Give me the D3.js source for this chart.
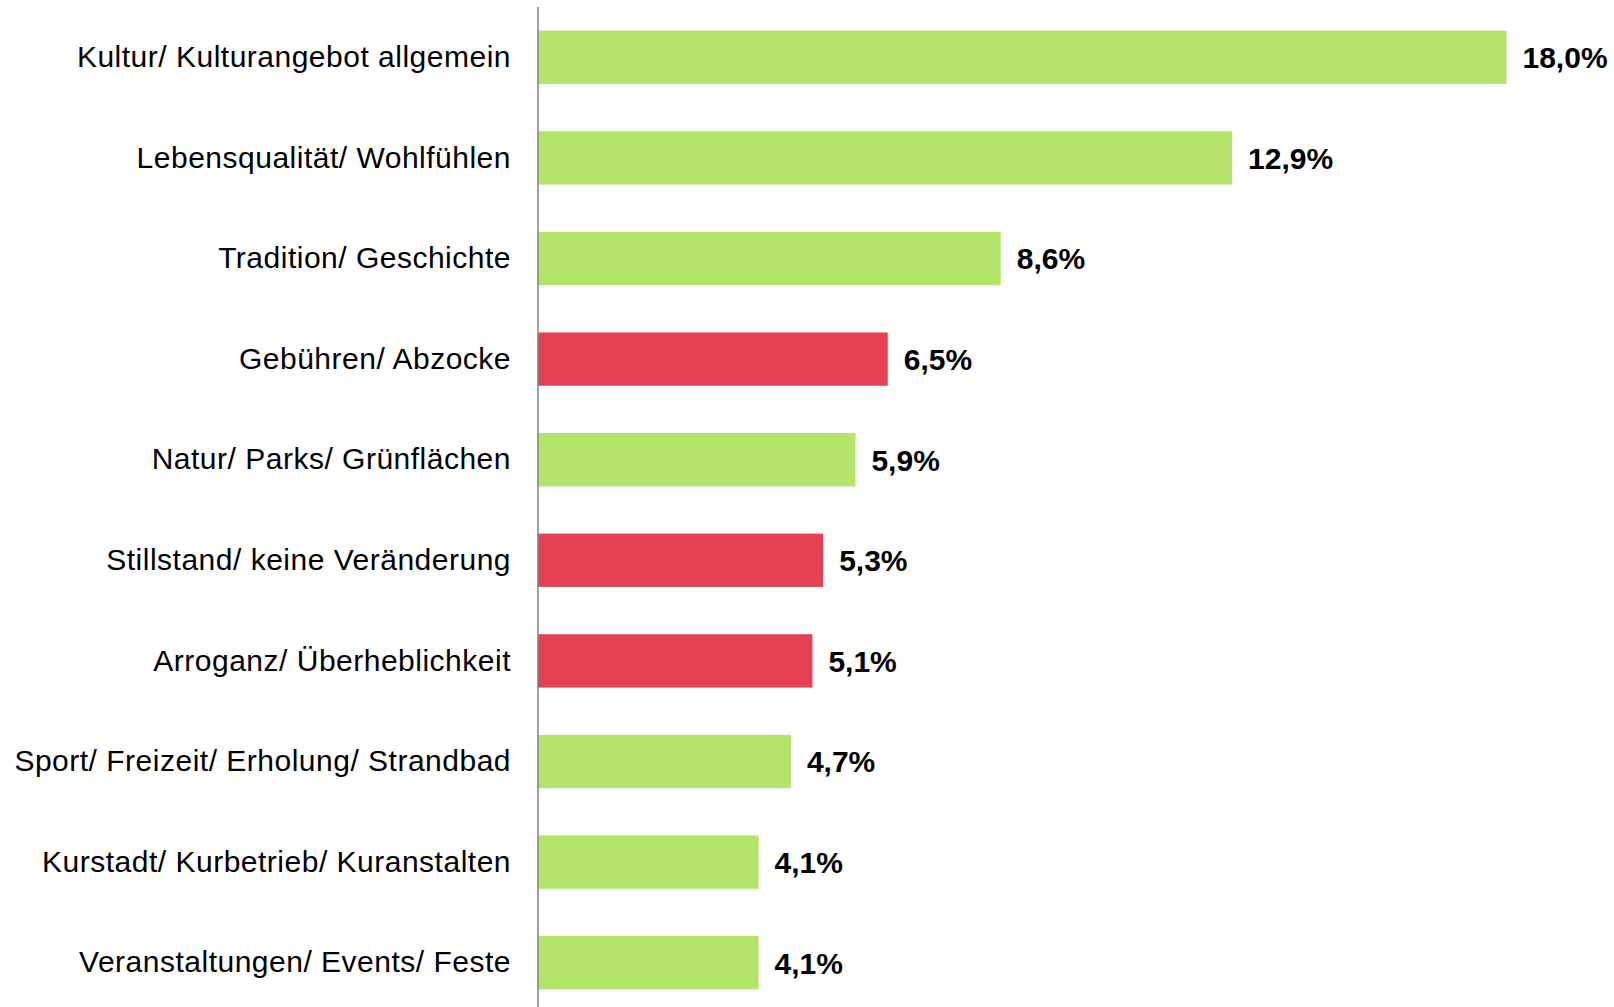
<!DOCTYPE html>
<html>
<head>
<meta charset="utf-8">
<script src="https://cdn.jsdelivr.net/npm/d3@7"></script>
<style>
	body { margin: 0; background: #fff; }
	svg { display: block; }
</style>
</head>
<body>
<div id="chart"></div>
<script>
// categories top to bottom
const categories = [
	'Kultur/ Kulturangebot allgemein',
	'Lebensqualität/ Wohlfühlen',
	'Tradition/ Geschichte',
	'Gebühren/ Abzocke',
	'Natur/ Parks/ Grünflächen',
	'Stillstand/ keine Veränderung',
	'Arroganz/ Überheblichkeit',
	'Sport/ Freizeit/ Erholung/ Strandbad',
	'Kurstadt/ Kurbetrieb/ Kuranstalten',
	'Veranstaltungen/ Events/ Feste'
]
const values = [18.0, 12.9, 8.6, 6.5, 5.9, 5.3, 5.1, 4.7, 4.1, 4.1]
// p = positive, n = negative
const tone = ['p', 'p', 'p', 'n', 'p', 'n', 'n', 'p', 'p', 'p']

var width = 1614
var height = 1007
var x0 = 538

var colorScale = d3.scaleOrdinal()
	.domain(['p', 'n'])
	.range(['rgb(178, 229, 106)', 'rgb(230, 65, 82)'])

var x = d3.scaleLinear()
	.domain([0, 18])
	.range([x0, 1506.5])

var y = d3.scaleBand()
	.domain(categories)
	.range([7, 1013])
	.paddingInner(0.47)
	.paddingOuter(0.235)

var svg = d3.select('#chart')
	.append('svg')
	.attr('width', width)
	.attr('height', height)
	.style('font-family', '"Liberation Sans", Arial, sans-serif')

// bars
svg.selectAll('rect.bar')
	.data(values)
	.enter()
	.append('rect')
	.attr('class', 'bar')
	.attr('x', x(0))
	.attr('y', (d, i) => y(categories[i]))
	.attr('width', d => x(d) - x(0))
	.attr('height', y.bandwidth())
	.attr('fill', (d, i) => colorScale(tone[i]))

// value labels
svg.selectAll('text.val')
	.data(values)
	.enter()
	.append('text')
	.attr('class', 'val')
	.attr('x', d => x(d) + 16)
	.attr('y', (d, i) => y(categories[i]) + y.bandwidth() / 2)
	.attr('dy', '0.36em')
	.style('font-size', '30px')
	.style('font-weight', 'bold')
	.style('fill', '#000')
	.text(d => d.toFixed(1).replace('.', ',') + '%')

// category axis
var axis = svg.append('g')
	.attr('transform', 'translate(' + x0 + ',0)')
	.call(d3.axisLeft(y).tickSize(0).tickPadding(27))

axis.select('.domain').remove()
axis.append('line')
	.attr('x1', 0).attr('x2', 0)
	.attr('y1', 7).attr('y2', height)
	.attr('stroke', '#7f7f7f')
	.attr('stroke-width', 1.5)

axis.selectAll('text')
	.style('font-family', '"Liberation Sans", Arial, sans-serif')
	.style('font-size', '30px')
	.style('letter-spacing', '0.5px')
	.style('fill', '#000')
</script>
</body>
</html>
